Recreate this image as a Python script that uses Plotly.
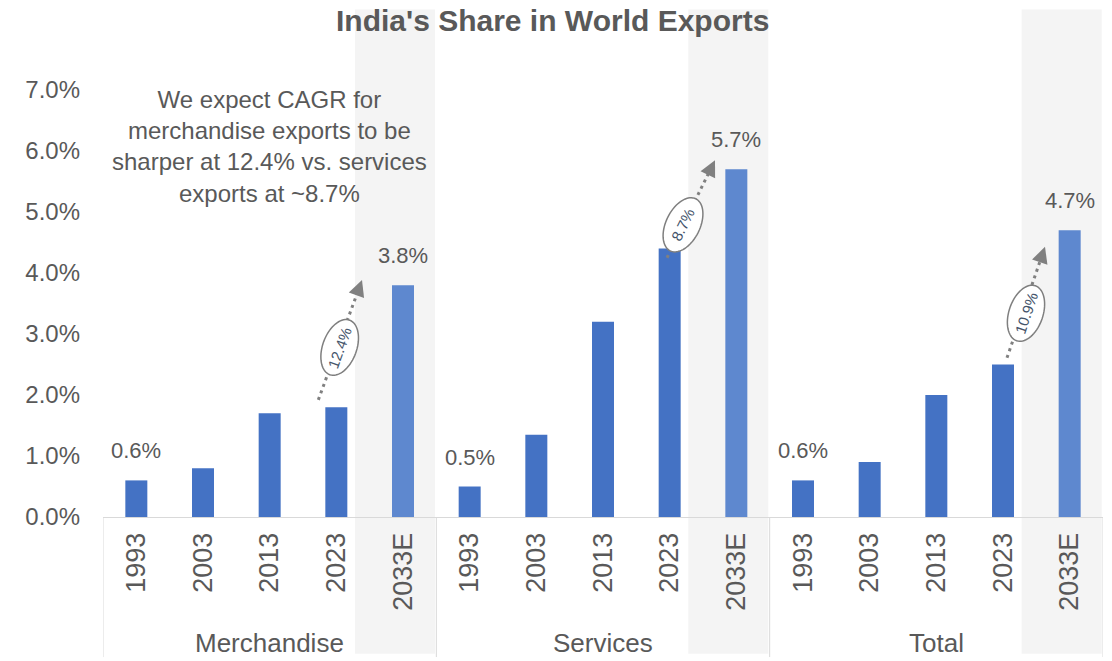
import math
import numpy as np
import plotly.graph_objects as go

# ---------------- data ----------------
groups = ["Merchandise", "Services", "Total"]
years = ["1993", "2003", "2013", "2023", "2033E"]
merchandise = [0.6, 0.8, 1.7, 1.8, 3.8]
services = [0.5, 1.35, 3.2, 4.4, 5.7]
total = [0.6, 0.9, 2.0, 2.5, 4.7]
cagr_labels = ["12.4%", "8.7%", "10.9%"]
y_ticks = [0, 1, 2, 3, 4, 5, 6, 7]
note_text = ("We expect CAGR for<br>merchandise exports to be<br>"
             "sharper at 12.4% vs. services<br>exports at ~8.7%")

series = [merchandise, services, total]

# ---------------- layout constants ----------------
# page body has an 8px margin, so the figure is drawn 8px smaller and the
# positions are offset accordingly
OFF = 8
W, H = 1112 - OFF, 661 - OFF
ML, MT = 103 - OFF, 29 - OFF
PW, PH = 1000, 488
MR = W - ML - PW
MB = H - MT - PH
NCAT = len(groups) * len(years)
XR = [-0.5, NCAT - 0.5]
YR = [0, 8]
PXX = PW / (XR[1] - XR[0])
PXY = PH / (YR[1] - YR[0])

GRAY = "#595959"
C_HIST = "#4472C4"
C_FC = "#5E88CF"
FONT = "Arial, Liberation Sans, sans-serif"

xs, ys, cols, ticktext = [], [], [], []
for g, vals in enumerate(series):
    for j, v in enumerate(vals):
        xs.append(g * len(years) + j)
        ys.append(v)
        cols.append(C_FC if j == len(years) - 1 else C_HIST)
        ticktext.append(years[j])

fig = go.Figure()
fig.add_trace(go.Bar(x=xs, y=ys, marker=dict(color=cols, line=dict(width=0)),
                     width=0.33, hoverinfo="x+y", showlegend=False))

shapes = []
annotations = []

# shaded forecast bands
for g in range(len(groups)):
    shapes.append(dict(type="rect", xref="x", yref="paper", layer="below",
                       x0=g * 5 + 3.28, x1=g * 5 + 4.48, y0=-0.28, y1=1.04,
                       fillcolor="#F4F4F4", line=dict(width=0)))
# group separators below axis
for k in range(len(groups) + 1):
    shapes.append(dict(type="line", xref="x", yref="paper",
                       x0=k * 5 - 0.5, x1=k * 5 - 0.5, y0=0, y1=-0.287,
                       line=dict(color="#D9D9D9", width=1)))

# data labels (first and last of each group)
for g, vals in enumerate(series):
    for j in (0, len(years) - 1):
        annotations.append(dict(x=g * 5 + j, y=vals[j], xref="x", yref="y",
                                text=f"{vals[j]:.1f}%", showarrow=False,
                                yanchor="bottom", yshift=15,
                                font=dict(size=22, color=GRAY, family=FONT)))

# group labels
for g, name in enumerate(groups):
    annotations.append(dict(x=g * 5 + 2, y=-0.258, xref="x", yref="paper",
                            text=name, showarrow=False, yanchor="middle",
                            font=dict(size=26, color=GRAY, family=FONT)))

# CAGR arrows: (start x, start y, tip x, tip y, ellipse centre x, y)
arrow_geo = [
    (2.73, 1.92, 3.385, 3.885, 3.05, 2.78),
    (7.96, 4.25, 8.68, 5.85, 8.20, 4.79),
    (13.06, 2.61, 13.63, 4.43, 13.345, 3.34),
]
for (x0, y0, x1, y1, cx, cy), lab in zip(arrow_geo, cagr_labels):
    dxp = (x1 - x0) * PXX
    dyp = (y1 - y0) * PXY
    ang = math.atan2(dyp, dxp)
    L = math.hypot(dxp, dyp)
    tx = x0 + (x1 - x0) * (L - 8) / L
    ty = y0 + (y1 - y0) * (L - 8) / L
    fig.add_trace(go.Scatter(x=[x0, tx], y=[y0, ty], mode="lines",
                             line=dict(color="#808080", width=3, dash="3px,4px"),
                             hoverinfo="skip", showlegend=False))
    annotations.append(dict(x=x1, y=y1, xref="x", yref="y", text="",
                            showarrow=True, arrowhead=2, arrowsize=1.3,
                            arrowwidth=2.5, arrowcolor="#808080",
                            ax=-math.cos(ang) * 12, ay=math.sin(ang) * 12))
    a, b = 29, 17
    t = np.linspace(0, 2 * np.pi, 73)
    ex, ey = a * np.cos(t), b * np.sin(t)
    rx = ex * math.cos(ang) - ey * math.sin(ang)
    ry = ex * math.sin(ang) + ey * math.cos(ang)
    px = cx + rx / PXX
    py = cy + ry / PXY
    path = "M " + " L ".join(f"{u:.4f},{v:.4f}" for u, v in zip(px, py)) + " Z"
    shapes.append(dict(type="path", xref="x", yref="y", path=path,
                       fillcolor="white", line=dict(color="#7F7F7F", width=1.5)))
    annotations.append(dict(x=cx, y=cy, xref="x", yref="y", text=lab,
                            showarrow=False, textangle=-math.degrees(ang),
                            font=dict(size=15, color="#44546A", family=FONT)))

# note text
annotations.append(dict(x=2, y=6.07, xref="x", yref="y", text=note_text,
                        showarrow=False, align="center", yanchor="middle",
                        font=dict(size=24, color=GRAY, family=FONT)))
# title
annotations.append(dict(x=(552 - OFF - ML) / PW, y=(MT + PH - (20 - OFF)) / PH,
                        xref="paper", yref="paper",
                        text="<b>India's Share in World Exports</b>", showarrow=False,
                        yanchor="middle",
                        font=dict(size=30, color=GRAY, family=FONT)))

fig.update_layout(
    width=W, height=H,
    margin=dict(l=ML, r=MR, t=MT, b=MB, pad=0, autoexpand=False),
    paper_bgcolor="white", plot_bgcolor="rgba(0,0,0,0)",
    shapes=shapes, annotations=annotations,
    xaxis=dict(range=XR, tickmode="array", tickvals=xs, ticktext=ticktext,
               tickangle=-90, showgrid=False, zeroline=False,
               showline=True, linecolor="#D9D9D9", linewidth=1,
               ticks="", ticklabelstandoff=4,
               tickfont=dict(size=27, color=GRAY, family=FONT)),
    yaxis=dict(range=YR, tickmode="array", tickvals=y_ticks,
               ticktext=[f"{v:.1f}%" for v in y_ticks],
               showgrid=False, zeroline=False, showline=False,
               ticks="", ticklabelstandoff=22,
               tickfont=dict(size=24, color=GRAY, family=FONT)),
)

fig.write_html("out.html")
